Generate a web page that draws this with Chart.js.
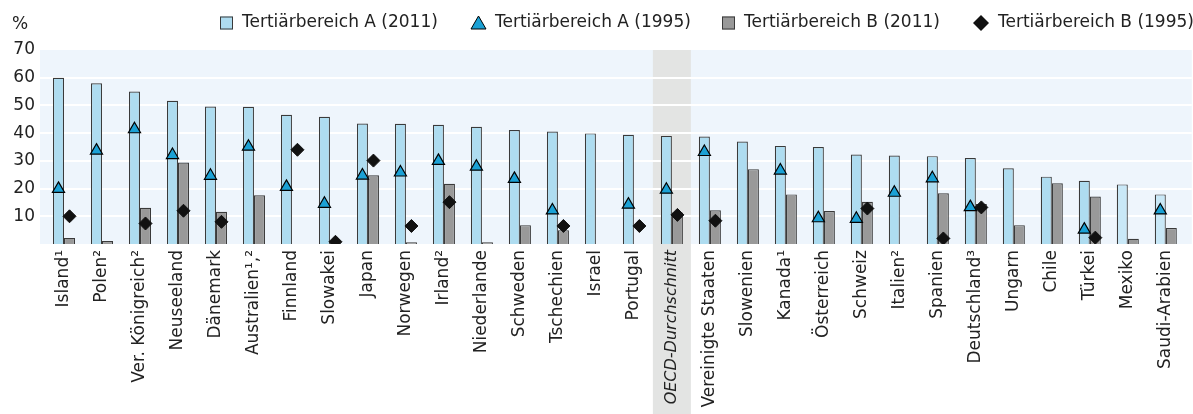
<!DOCTYPE html>
<html>
<head>
<meta charset="utf-8">
<script src="https://cdn.jsdelivr.net/npm/chart.js@4/dist/chart.umd.min.js"></script>
<style>
  html, body { margin: 0; padding: 0; background: #ffffff; }
  #wrap { width: 1193px; height: 414px; position: relative; }
</style>
</head>
<body>
<div id="wrap"><canvas id="c" width="1193" height="414"></canvas></div>
<script>
const categories = ["Island¹", "Polen²", "Ver. Königreich²", "Neuseeland", "Dänemark", "Australien¹,²", "Finnland", "Slowakei", "Japan", "Norwegen", "Irland²", "Niederlande", "Schweden", "Tschechien", "Israel", "Portugal", "OECD-Durchschnitt", "Vereinigte Staaten", "Slowenien", "Kanada¹", "Österreich", "Schweiz", "Italien²", "Spanien", "Deutschland³", "Ungarn", "Chile", "Türkei", "Mexiko", "Saudi-Arabien"];
const tertA2011 = [60, 58, 55, 51.7, 49.6, 49.5, 46.6, 45.9, 43.5, 43.4, 43, 42.3, 41.1, 40.6, 39.9, 39.4, 39, 38.8, 37, 35.4, 35, 32.3, 31.9, 31.7, 31, 27.3, 24.3, 22.8, 21.5, 17.9];
const tertA1995 = [19.9, 33.7, 41.4, 32.1, 24.6, 35.1, 20.6, 14.5, 24.7, 25.8, 30, 27.9, 23.5, 12.1, null, 14.2, 19.6, 33.2, null, 26.5, 9.3, 9.1, 18.5, 23.7, 13.3, null, null, 5.2, null, 12.1];
const tertB2011 = [2.2, 1.1, 13.1, 29.4, 11.6, 17.6, null, null, 24.8, 0.6, 21.7, 0.6, 6.8, 5, null, null, 11.4, 12.2, 27, 17.9, 11.9, 15.2, null, 18.3, 14.4, 6.8, 21.9, 17.1, 1.9, 5.8];
const tertB1995 = [10, null, 7.4, 12, 8, null, 34, 0.8, 30.1, 6.5, 15.1, null, null, 6.5, null, 6.5, 10.5, 8.4, null, null, null, 12.8, null, 2, 13.2, null, null, 2.3, null, null];
const seriesLabels = ["Tertiärbereich A (2011)", "Tertiärbereich A (1995)", "Tertiärbereich B (2011)", "Tertiärbereich B (1995)"];
const yTickValues = [10, 20, 30, 40, 50, 60, 70];
const averageCategory = "OECD-Durchschnitt";
const lightBarCategories = ["Mexiko", "Saudi-Arabien"];
const unitLabel = "%";

const FONT = "'DejaVu Sans', sans-serif";
const FS = 17;
const TEXT = "#222222";
const colA = "#AEDCF0", colAlight = "#C9E8F7", colB = "#999999", colTri = "#1BA1D5";

Chart.defaults.font.family = FONT;
Chart.defaults.font.size = FS;
Chart.defaults.color = TEXT;

const avgIndex = categories.indexOf(averageCategory);
const legendStarts = [220, 471, 722, 973];

const decorPlugin = {
  id: 'decor',
  beforeDraw(chart) {
    const ctx = chart.ctx, a = chart.chartArea;
    const xs = chart.scales.x, ys = chart.scales.y;
    const left = a.left - 5, right = a.right + 7;
    ctx.save();
    ctx.fillStyle = '#EEF5FC';
    ctx.fillRect(left, a.top, right - left, a.bottom - a.top);
    const cx = xs.getPixelForValue(avgIndex);
    const half = (xs.getPixelForValue(1) - xs.getPixelForValue(0)) / 2;
    ctx.fillStyle = '#E3E4E3';
    ctx.fillRect(cx - half, a.top, half * 2, chart.height - a.top);
    ctx.strokeStyle = '#FFFFFF';
    ctx.lineWidth = 2;
    yTickValues.forEach(v => {
      if (v >= ys.max) return;
      const y = Math.round(ys.getPixelForValue(v));
      ctx.beginPath();
      ctx.moveTo(left, y);
      ctx.lineTo(right, y);
      ctx.stroke();
    });
    ctx.restore();
  },
  afterDatasetsUpdate(chart) {
    const barA = chart.getDatasetMeta(0), barB = chart.getDatasetMeta(1);
    const triM = chart.getDatasetMeta(2), diaM = chart.getDatasetMeta(3);
    triM.data.forEach((p, i) => { if (barA.data[i]) p.x = barA.data[i].x; });
    diaM.data.forEach((p, i) => { if (barB.data[i]) p.x = barB.data[i].x; });
  },
  afterDraw(chart) {
    const ctx = chart.ctx;
    ctx.save();
    ctx.font = FS + "px " + FONT;
    ctx.fillStyle = TEXT;
    ctx.textBaseline = 'middle';
    ctx.textAlign = 'center';
    ctx.fillText(unitLabel, 20, 25);
    ctx.textAlign = 'left';
    const y = 23;
    const ds = chart.data.datasets;
    [0, 2, 1, 3].forEach((di, k) => {
      const d = ds[di];
      let x = legendStarts[k];
      ctx.lineWidth = 1;
      if (di === 0 || di === 1) {
        ctx.fillStyle = di === 0 ? colA : colB;
        ctx.strokeStyle = '#3a3a3a';
        ctx.fillRect(x, y - 6.5, 13, 13);
        ctx.strokeRect(x + 0.5, y - 6, 12, 12);
        x += 13;
      } else if (di === 2) {
        ctx.fillStyle = colTri; ctx.strokeStyle = '#000';
        ctx.beginPath();
        ctx.moveTo(x + 7.5, y - 7);
        ctx.lineTo(x + 15, y + 6);
        ctx.lineTo(x, y + 6);
        ctx.closePath(); ctx.fill(); ctx.stroke();
        x += 15;
      } else {
        ctx.fillStyle = '#111';
        ctx.beginPath();
        ctx.moveTo(x + 8, y - 8);
        ctx.lineTo(x + 16, y);
        ctx.lineTo(x + 8, y + 8);
        ctx.lineTo(x, y);
        ctx.closePath(); ctx.fill();
        x += 16;
      }
      x += 9;
      ctx.fillStyle = TEXT;
      ctx.fillText(d.label, x, y);
    });
    ctx.restore();
  }
};

new Chart(document.getElementById('c'), {
  type: 'bar',
  data: {
    labels: categories,
    datasets: [
      {
        label: seriesLabels[0], data: tertA2011, order: 1,
        backgroundColor: categories.map(c => lightBarCategories.includes(c) ? colAlight : colA),
        borderColor: '#3a3a3a', borderWidth: 1.2,
        categoryPercentage: 0.58, barPercentage: 1
      },
      {
        label: seriesLabels[2], data: tertB2011, order: 1,
        backgroundColor: colB, borderColor: '#3a3a3a', borderWidth: 1.2,
        categoryPercentage: 0.58, barPercentage: 1
      },
      {
        type: 'line', label: seriesLabels[1], data: tertA1995, order: 0,
        showLine: false, pointStyle: 'triangle', pointRadius: 7, pointHoverRadius: 7,
        pointBackgroundColor: colTri, pointBorderColor: '#000', pointBorderWidth: 1.2
      },
      {
        type: 'line', label: seriesLabels[3], data: tertB1995, order: 0,
        showLine: false, pointStyle: 'rectRot', pointRadius: 6.5, pointHoverRadius: 6.5,
        pointBackgroundColor: '#111', pointBorderColor: '#111', pointBorderWidth: 1
      }
    ]
  },
  options: {
    responsive: false,
    animation: false,
    events: [],
    layout: { padding: { top: 50, right: 8, left: 0, bottom: 0 } },
    plugins: { legend: { display: false }, tooltip: { enabled: false } },
    scales: {
      x: {
        offset: true,
        grid: { display: false, drawTicks: false },
        border: { display: false },
        ticks: {
          autoSkip: false, minRotation: 90, maxRotation: 90, padding: 6,
          color: TEXT,
          font: (ctx) => (ctx.index === avgIndex
            ? { family: FONT, size: 16, style: 'italic' }
            : { family: FONT, size: FS, style: 'normal' })
        },
        afterFit: (s) => { s.height = 170; }
      },
      y: {
        min: 0, max: 70,
        grid: { display: false, drawTicks: false },
        border: { display: false },
        afterBuildTicks: (s) => { s.ticks = yTickValues.map(v => ({ value: v })); },
        ticks: { padding: 10, color: TEXT, font: { family: FONT, size: FS } },
        afterFit: (s) => { s.width = 45; }
      }
    }
  },
  plugins: [decorPlugin]
});
</script>
</body>
</html>
